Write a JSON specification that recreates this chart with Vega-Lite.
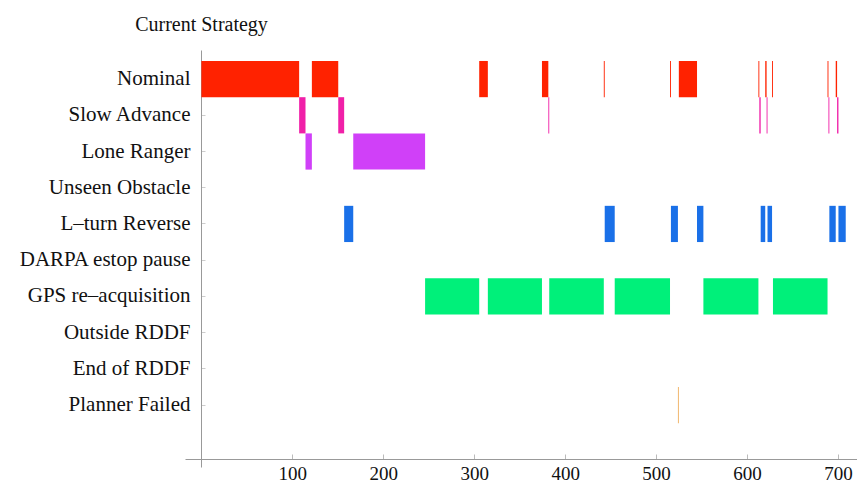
{
  "$schema": "https://vega.github.io/schema/vega-lite/v6.json",
  "autosize": {"type": "none"},
  "padding": {"left": 185, "top": 50, "right": 0, "bottom": 28},
  "width": 673,
  "height": 417,
  "background": "white",
  "config": {
    "view": {"stroke": null},
    "font": "Liberation Serif"
  },
  "data": {
    "values": [
      {"s": "Nominal", "a": 0, "b": 107.5},
      {"s": "Slow Advance", "a": 107.5, "b": 114.5},
      {"s": "Lone Ranger", "a": 114.5, "b": 121.5},
      {"s": "Nominal", "a": 121.5, "b": 150.5},
      {"s": "Slow Advance", "a": 150.5, "b": 157},
      {"s": "L\u2013turn Reverse", "a": 157, "b": 167},
      {"s": "Lone Ranger", "a": 167, "b": 246},
      {"s": "GPS re\u2013acquisition", "a": 246, "b": 305.5},
      {"s": "Nominal", "a": 305.5, "b": 315},
      {"s": "GPS re\u2013acquisition", "a": 315, "b": 374.5},
      {"s": "Nominal", "a": 374.5, "b": 381.5},
      {"s": "Slow Advance", "a": 381.5, "b": 382.5},
      {"s": "GPS re\u2013acquisition", "a": 382.5, "b": 442.5},
      {"s": "Nominal", "a": 442.5, "b": 443.5},
      {"s": "L\u2013turn Reverse", "a": 443.5, "b": 454.5},
      {"s": "GPS re\u2013acquisition", "a": 454.5, "b": 515.3},
      {"s": "Nominal", "a": 515.3, "b": 516.3},
      {"s": "L\u2013turn Reverse", "a": 516.3, "b": 524},
      {"s": "Planner Failed", "a": 524, "b": 525},
      {"s": "Nominal", "a": 525, "b": 545},
      {"s": "L\u2013turn Reverse", "a": 545, "b": 552},
      {"s": "GPS re\u2013acquisition", "a": 552, "b": 612.5},
      {"s": "Nominal", "a": 612.5, "b": 613.5},
      {"s": "Slow Advance", "a": 613.5, "b": 615},
      {"s": "L\u2013turn Reverse", "a": 615, "b": 620},
      {"s": "Nominal", "a": 620, "b": 621.5},
      {"s": "Slow Advance", "a": 621.5, "b": 622.5},
      {"s": "L\u2013turn Reverse", "a": 622.5, "b": 627.5},
      {"s": "Nominal", "a": 627.5, "b": 628.5},
      {"s": "GPS re\u2013acquisition", "a": 628.5, "b": 688.5},
      {"s": "Nominal", "a": 688.5, "b": 689.5},
      {"s": "Slow Advance", "a": 689.5, "b": 690.5},
      {"s": "L\u2013turn Reverse", "a": 690.5, "b": 697.5},
      {"s": "Nominal", "a": 697.5, "b": 699},
      {"s": "Slow Advance", "a": 699, "b": 700.5},
      {"s": "L\u2013turn Reverse", "a": 700.5, "b": 708.5}
    ]
  },
  "mark": {"type": "bar", "cornerRadius": 0},
  "encoding": {
    "x": {
      "field": "a",
      "type": "quantitative",
      "scale": {"domain": [-18, 722], "nice": false, "zero": false},
      "axis": {
        "title": null,
        "values": [100, 200, 300, 400, 500, 600, 700],
        "offset": -8,
        "grid": false,
        "domainColor": "#999999",
        "tickColor": "#bbbbbb",
        "tickSize": -5,
        "labelFont": "Liberation Serif",
        "labelFontSize": 19,
        "labelColor": "#111111",
        "labelPadding": 10
      }
    },
    "x2": {"field": "b"},
    "y": {
      "field": "s",
      "type": "nominal",
      "scale": {
        "domain": ["Nominal", "Slow Advance", "Lone Ranger", "Unseen Obstacle", "L\u2013turn Reverse", "DARPA estop pause", "GPS re\u2013acquisition", "Outside RDDF", "End of RDDF", "Planner Failed"],
        "paddingInner": 0,
        "paddingOuter": 0.757,
        "align": 0.2
      },
      "axis": {
        "title": "Current Strategy",
        "titleAngle": 0,
        "titleAlign": "center",
        "titleBaseline": "alphabetic",
        "titleX": 0,
        "titleY": -20,
        "titleFont": "Liberation Serif",
        "titleFontSize": 20,
        "titleFontWeight": "normal",
        "titleColor": "#111111",
        "offset": -16,
        "grid": false,
        "domainColor": "#999999",
        "tickColor": "#cccccc",
        "tickSize": -4,
        "labelFont": "Liberation Serif",
        "labelFontSize": 21,
        "labelColor": "#111111",
        "labelPadding": 15,
        "labelLimit": 300
      }
    },
    "color": {
      "field": "s",
      "type": "nominal",
      "legend": null,
      "scale": {
        "domain": ["Nominal", "Slow Advance", "Lone Ranger", "L\u2013turn Reverse", "GPS re\u2013acquisition", "Planner Failed"],
        "range": ["#ff2200", "#f020a8", "#d040f8", "#1a70e8", "#00f07a", "#f0b060"]
      }
    }
  }
}
